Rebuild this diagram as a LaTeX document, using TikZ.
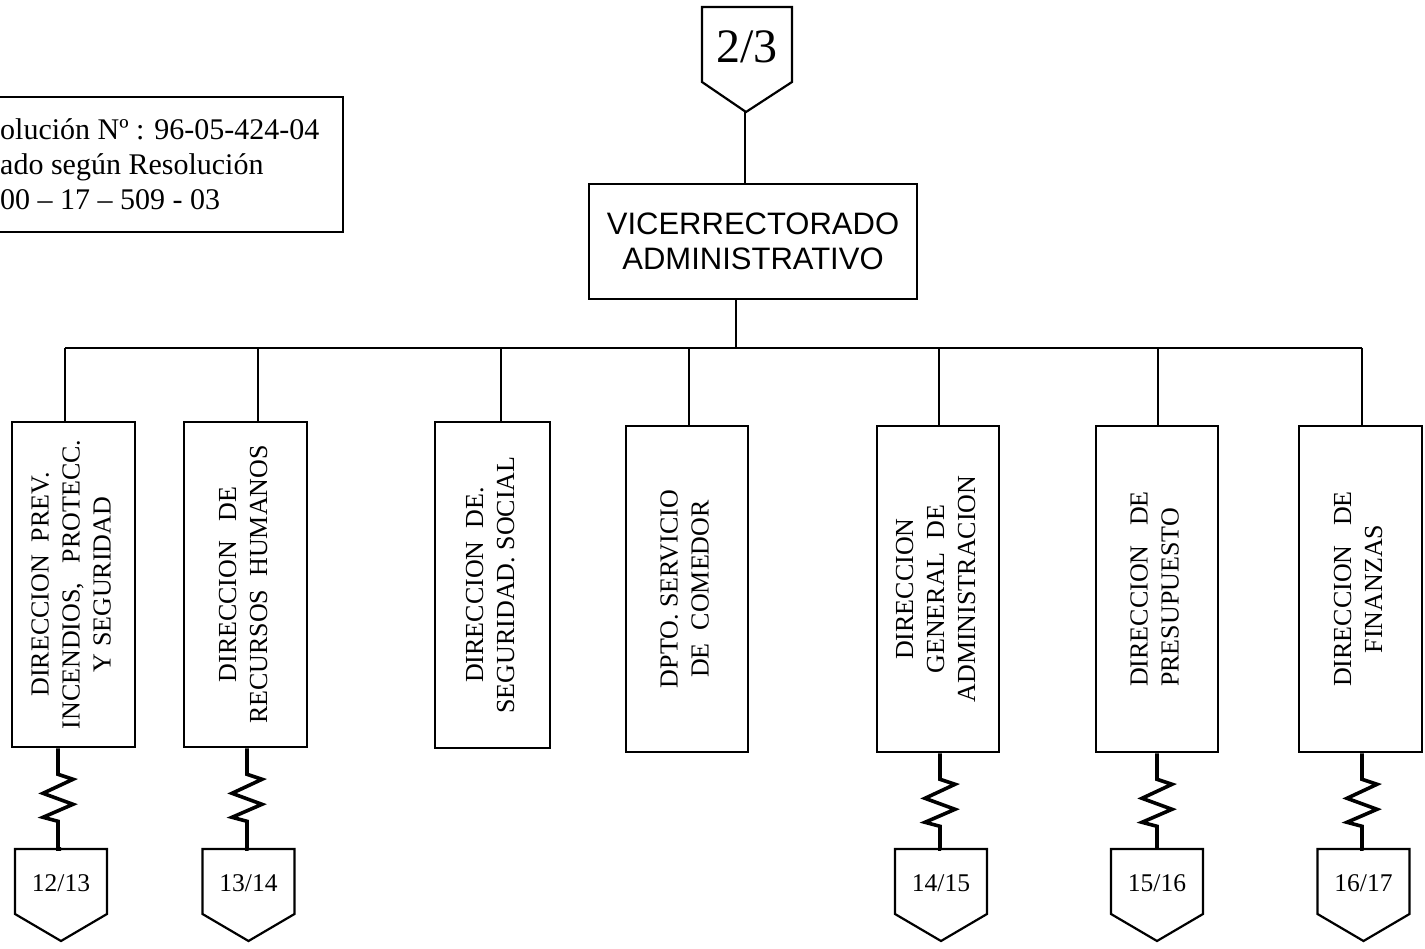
\documentclass[tikz,border=0pt]{standalone}
\usepackage{fontspec}
\setmainfont{Liberation Serif}
\setsansfont{Liberation Sans}
\usepackage{graphicx}
\newcommand\OffPage[4]{%
  \draw[pent] (#2-46,#3) -- (#2+46,#3) -- (#2+46,#3-65) -- (#2,#3-92) -- (#2-46,#3-65) -- cycle;
  \coordinate (#1top) at (#2,#3);
  \node[pentxt] (#1) at (#2,#3-34) {#4};
}
\newcommand\VText[2]{\rotatebox{90}{\begin{tabular}{@{}#1@{}}#2\end{tabular}}}
\begin{document}
\begin{tikzpicture}[x=1pt,y=1pt,line join=miter,
  vbox/.style={draw,line width=2.6pt,minimum height=326pt,inner sep=0pt,font=\fontsize{26}{31}\selectfont},
  conn/.style={line width=2.2pt},
  zz/.style={line width=3.6pt},
  pent/.style={line width=2.2pt},
  pentxt/.style={inner sep=0pt,font=\fontsize{25.5}{30}\selectfont}]
\useasboundingbox (0,0) rectangle (1425,-949);

% resolution box (cut by the left margin)
\draw[line width=2.3pt] (-10,-97) -- (343,-97) -- (343,-232) -- (-10,-232);
\node[anchor=west,align=left,inner sep=0pt,font=\fontsize{30}{35}\selectfont] (res) at (0,-164)
  {olución Nº : 96-05-424-04\\ado según Resolución\\00 – 17 – 509 - 03};

% top off-page connector
\draw[pent] (702,-7) -- (792,-7) -- (792,-82) -- (746,-112) -- (702,-82) -- cycle;
\node[inner sep=0pt,font=\fontsize{48}{54}\selectfont] (p23) at (747,-47) {2/3};
\coordinate (p23tip) at (745,-112);

% main box
\node[draw,line width=2.4pt,minimum width=328pt,minimum height=115pt,inner sep=0pt,
  font=\sffamily\fontsize{31}{35}\selectfont] (vr) at (753,-241.5)
  {\raisebox{-4pt}[\height][\depth]{\begin{tabular}{@{}c@{}}VICERRECTORADO\\ADMINISTRATIVO\end{tabular}}};
\draw[conn] (p23tip) -- (p23tip |- vr.north);

% bus
\coordinate (busL) at (65,-348);
\coordinate (busR) at (1362,-348);
\coordinate (vrd) at (736,-348);
\draw[conn] (busL) -- (busR);
\draw[conn] (vrd |- vr.south) -- (vrd);

% department boxes
\node[vbox,minimum width=123pt,minimum height=325pt] (b1) at (73.5,-584.5)
  {\VText{c}{DIRECCION\ \ PREV.\\INCENDIOS,\ \ \ PROTECC.\\Y SEGURIDAD}};
\node[vbox,minimum width=123pt,minimum height=325pt] (b2) at (245.5,-584.5)
  {\VText{c}{DIRECCION\ \ \ DE\\RECURSOS\ \ HUMANOS}};
\node[vbox,minimum width=115pt] (b3) at (492.5,-585)
  {\VText{c}{DIRECCION\ \ DE.\\SEGURIDAD. SOCIAL}};
\node[vbox,minimum width=122pt] (b4) at (687,-589)
  {\VText{c}{DPTO. SERVICIO\\ DE\ \ COMEDOR}};
\node[vbox,minimum width=122pt] (b5) at (938,-589)
  {\VText{c}{DIRECCION\\GENERAL\ \ DE\\ADMINISTRACION}};
\node[vbox,minimum width=122pt] (b6) at (1157,-589)
  {\VText{l}{DIRECCION\ \ \ DE\\PRESUPUESTO}};
\node[vbox,minimum width=123pt] (b7) at (1360.5,-589)
  {\VText{c}{DIRECCION\ \ \ DE\\FINANZAS}};

% drops from the bus
\foreach \n/\x in {1/65,2/258,3/501,4/689,5/939,6/1158,7/1362}{
  \coordinate (d\n) at (\x,-348);
  \draw[conn] (d\n) -- (d\n |- b\n.north);
}

% off-page connectors at the bottom
\OffPage{p1}{61}{-849}{12/13}
\OffPage{p2}{248.5}{-849}{13/14}
\OffPage{p5}{941}{-849}{14/15}
\OffPage{p6}{1157}{-849}{15/16}
\OffPage{p7}{1363.5}{-849}{16/17}

% zigzag links
\foreach \n/\s in {1/-15.5,2/1.5,5/2,6/0,7/1.5}{
  \draw[zz] ([xshift=\s pt]b\n.south) -- ++(0,-26) -- ++(15,-5) -- ++(-30,-14)
    -- ++(30,-11) -- ++(-30,-13) -- ++(15,-4) |- (p\n top);
}
\end{tikzpicture}
\end{document}
